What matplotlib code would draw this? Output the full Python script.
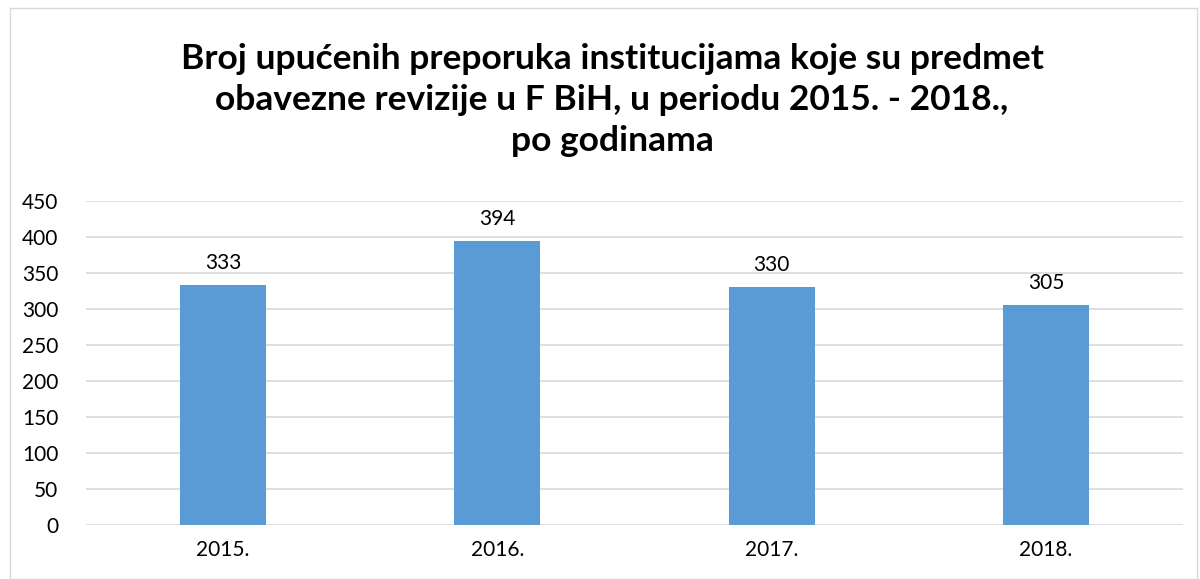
import matplotlib
matplotlib.use("Agg")
import matplotlib.pyplot as plt
from matplotlib.patches import Rectangle

# Podaci
godine = ['2015.', '2016.', '2017.', '2018.']
preporuke = [333, 394, 330, 305]
y_ticks = [0, 50, 100, 150, 200, 250, 300, 350, 400, 450]

plt.rcParams['font.family'] = ['Lato', 'DejaVu Sans']

fig = plt.figure(figsize=(12, 5.79), dpi=100)
ax = fig.add_axes([86 / 1200, 1 - 525 / 579, 1097 / 1200, 324 / 579])

x = range(len(godine))
bars = ax.bar(x, preporuke, width=0.314, color='#5B9BD5', zorder=3)
for b, v in zip(bars, preporuke):
    ax.annotate(str(v), (b.get_x() + b.get_width() / 2, v), xytext=(0, 9),
                textcoords='offset points', ha='center', va='bottom', fontsize=15)

ax.set_xlim(-0.5, len(godine) - 0.5)
ax.set_ylim(0, 450)
ax.set_yticks(y_ticks)
ax.set_xticks(list(x))
ax.set_xticklabels(godine)
ax.tick_params(axis='both', length=0, labelsize=15)
ax.tick_params(axis='y', pad=20)
ax.tick_params(axis='x', pad=11)
ax.grid(axis='y', color='#D9D9D9', linewidth=1.2, zorder=0)
for s in ax.spines.values():
    s.set_visible(False)

fig.text(0.51, 1 - 100 / 579, 'Broj upućenih preporuka institucijama koje su predmet\n'
         'obavezne revizije u F BiH, u periodu 2015. - 2018.,\npo godinama',
         ha='center', va='center', fontsize=25.5, fontweight='bold', linespacing=1.33)

fig.patches.append(Rectangle((10 / 1200, 0), 1187 / 1200, 1 - 8 / 579,
                             transform=fig.transFigure, fill=False,
                             edgecolor='#D9D9D9', linewidth=1))

fig.savefig('out.png', dpi=100)
